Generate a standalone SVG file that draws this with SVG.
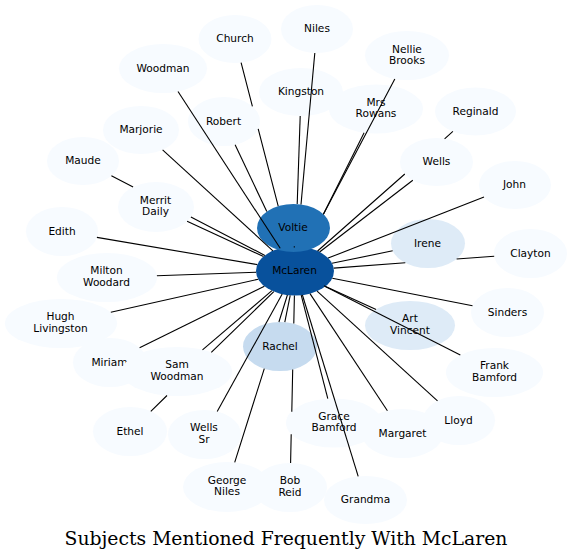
<svg xmlns="http://www.w3.org/2000/svg" width="572" height="560" viewBox="0 0 572 560">
<style>
.node ellipse{fill:#f7fbff;stroke:none}
.node text{font-family:"DejaVu Sans","Liberation Sans",sans-serif;font-size:10.6px;text-anchor:middle;fill:#000}
#connectors path{stroke:#000;stroke-width:1.1;fill:none}
.title{font-family:"DejaVu Serif","Liberation Serif",serif;font-size:18.8px;text-anchor:middle;fill:#000}
</style>
<rect width="572" height="560" fill="#fff"/>
<g id="nodes">
<g id="n-niles" class="node"><ellipse cx="317" cy="29" rx="36" ry="24"/><text x="317" y="32">Niles</text></g>
<g id="n-church" class="node"><ellipse cx="235" cy="39" rx="36.5" ry="24"/><text x="235" y="42">Church</text></g>
<g id="n-woodman" class="node"><ellipse cx="163" cy="68.5" rx="44" ry="24.5"/><text x="163" y="71.5">Woodman</text></g>
<g id="n-nellie-brooks" class="node"><ellipse cx="407" cy="55.5" rx="42" ry="24.5"/><text x="407" y="52.6">Nellie<tspan x="407" y="64">Brooks</tspan></text></g>
<g id="n-kingston" class="node"><ellipse cx="301" cy="92" rx="42" ry="24"/><text x="301" y="95">Kingston</text></g>
<g id="n-mrs-rowans" class="node"><ellipse cx="376" cy="109" rx="47" ry="24.5"/><text x="376" y="106">Mrs<tspan x="376" y="117.4">Rowans</tspan></text></g>
<g id="n-reginald" class="node"><ellipse cx="475.5" cy="111.5" rx="40.5" ry="24"/><text x="475.5" y="114.5">Reginald</text></g>
<g id="n-robert" class="node"><ellipse cx="224" cy="121.5" rx="36" ry="24.5"/><text x="223.5" y="124.5">Robert</text></g>
<g id="n-marjorie" class="node"><ellipse cx="141" cy="130" rx="38" ry="24"/><text x="141" y="133">Marjorie</text></g>
<g id="n-wells" class="node"><ellipse cx="436.5" cy="162" rx="36.5" ry="24"/><text x="436.5" y="165">Wells</text></g>
<g id="n-maude" class="node"><ellipse cx="83" cy="161" rx="36" ry="24"/><text x="83" y="164">Maude</text></g>
<g id="n-john" class="node"><ellipse cx="515" cy="185" rx="36" ry="24"/><text x="514.5" y="188">John</text></g>
<g id="n-merrit-daily" class="node"><ellipse cx="156" cy="207" rx="38" ry="25"/><text x="155.5" y="204">Merrit<tspan x="155.5" y="215.4">Daily</tspan></text></g>
<g id="n-edith" class="node"><ellipse cx="62" cy="231.5" rx="36" ry="24.5"/><text x="62" y="234.5">Edith</text></g>
<g id="n-irene" class="node"><ellipse cx="428" cy="243.5" rx="37" ry="24.5" style="fill:#deebf7"/><text x="427.5" y="246.5">Irene</text></g>
<g id="n-clayton" class="node"><ellipse cx="530.5" cy="253.5" rx="36.5" ry="24.5"/><text x="530.5" y="256.5">Clayton</text></g>
<g id="n-mclaren" class="node"><ellipse cx="295" cy="271" rx="39" ry="24.5" style="fill:#08519c"/><text x="294.5" y="274">McLaren</text></g>
<g id="n-voltie" class="node"><ellipse cx="293.5" cy="228" rx="36.5" ry="24" style="fill:#2171b5"/><text x="293" y="231">Voltie</text></g>
<g id="n-milton-woodard" class="node"><ellipse cx="107" cy="277.5" rx="50" ry="24.5"/><text x="106.5" y="274.4">Milton<tspan x="106.5" y="285.8">Woodard</tspan></text></g>
<g id="n-sinders" class="node"><ellipse cx="507.5" cy="312.5" rx="36.5" ry="24.5"/><text x="507.5" y="315.5">Sinders</text></g>
<g id="n-hugh-livingston" class="node"><ellipse cx="61" cy="323.5" rx="56" ry="24.5"/><text x="60.5" y="320.4">Hugh<tspan x="60.5" y="331.8">Livingston</tspan></text></g>
<g id="n-art-vincent" class="node"><ellipse cx="410" cy="325.5" rx="45" ry="24.5" style="fill:#deebf7"/><text x="410" y="322.4">Art<tspan x="410" y="333.8">Vincent</tspan></text></g>
<g id="n-rachel" class="node"><ellipse cx="280" cy="346.5" rx="37" ry="24.5" style="fill:#c6dbef"/><text x="280" y="349.5">Rachel</text></g>
<g id="n-miriam" class="node"><ellipse cx="110" cy="362.5" rx="37" ry="24.5"/><text x="109.5" y="365.5">Miriam</text></g>
<g id="n-sam-woodman" class="node"><ellipse cx="177" cy="371.5" rx="55" ry="24.5"/><text x="177" y="368.4">Sam<tspan x="177" y="379.8">Woodman</tspan></text></g>
<g id="n-frank-bamford" class="node"><ellipse cx="494.5" cy="372.5" rx="48.5" ry="24.5"/><text x="494.5" y="369.4">Frank<tspan x="494.5" y="380.8">Bamford</tspan></text></g>
<g id="n-grace-bamford" class="node"><ellipse cx="334" cy="423" rx="48" ry="24.5"/><text x="334" y="419.9">Grace<tspan x="334" y="431.3">Bamford</tspan></text></g>
<g id="n-margaret" class="node"><ellipse cx="402.5" cy="433.5" rx="40.5" ry="24.5"/><text x="402.5" y="436.5">Margaret</text></g>
<g id="n-lloyd" class="node"><ellipse cx="459" cy="420.5" rx="36" ry="24.5"/><text x="458.5" y="423.5">Lloyd</text></g>
<g id="n-ethel" class="node"><ellipse cx="130" cy="431.5" rx="37" ry="24.5"/><text x="130" y="434.5">Ethel</text></g>
<g id="n-wells-sr" class="node"><ellipse cx="204.5" cy="434.5" rx="36.5" ry="24.5"/><text x="204" y="431.4">Wells<tspan x="204" y="442.8">Sr</tspan></text></g>
<g id="n-george-niles" class="node"><ellipse cx="227" cy="487" rx="44" ry="25"/><text x="227" y="484">George<tspan x="227" y="495.4">Niles</tspan></text></g>
<g id="n-bob-reid" class="node"><ellipse cx="290" cy="487.5" rx="37" ry="24.5"/><text x="290" y="484.4">Bob<tspan x="290" y="495.8">Reid</tspan></text></g>
<g id="n-grandma" class="node"><ellipse cx="365.5" cy="500" rx="41.5" ry="24"/><text x="365.5" y="503">Grandma</text></g>
</g>
<g id="connectors">
<path d="M314.8,53.0 L301.0,204.5"/>
<path d="M241.1,62.7 L252.4,106.4 M258.2,128.9 L278.2,206.2"/>
<path d="M178.0,91.5 L280.2,248.3"/>
<path d="M394.8,78.9 L323.4,214.3"/>
<path d="M300.2,116.0 L297.2,204.1"/>
<path d="M364.1,132.7 L323.4,214.2"/>
<path d="M452.9,131.4 L444.6,138.8 M404.8,174.0 L317.6,251.0"/>
<path d="M235.1,144.8 L266.8,211.6"/>
<path d="M162.6,149.8 L272.9,250.8"/>
<path d="M412.8,180.3 L319.6,252.0"/>
<path d="M111.4,175.7 L133.1,186.9 M190.9,217.0 L264.9,255.4"/>
<path d="M484.0,197.1 L328.1,258.1"/>
<path d="M187.1,221.3 L263.5,256.5"/>
<path d="M96.9,237.4 L257.3,264.6"/>
<path d="M392.7,250.8 L332.0,263.3"/>
<path d="M494.2,256.2 L456.6,259.0 M405.3,262.8 L333.7,268.1"/>
<path d="M156.9,275.8 L256.1,272.3"/>
<path d="M472.5,305.7 L332.3,278.3"/>
<path d="M110.8,312.3 L258.3,279.2"/>
<path d="M376.1,309.4 L323.9,285.8"/>
<path d="M284.8,322.2 L290.2,295.3"/>
<path d="M139.6,347.8 L264.4,286.2"/>
<path d="M202.5,349.8 L271.9,290.7"/>
<path d="M460.3,355.1 L325.3,286.4"/>
<path d="M437.5,400.9 L317.1,291.2"/>
<path d="M327.8,398.7 L301.2,295.2"/>
<path d="M387.4,410.8 L310.0,293.6"/>
<path d="M150.8,411.3 L167.0,395.5 M211.3,352.4 L273.8,291.6"/>
<path d="M217.2,411.5 L282.2,294.1"/>
<path d="M234.7,462.4 L264.3,368.6 M278.9,322.0 L287.4,295.0"/>
<path d="M290.6,463.0 L291.2,434.2 M291.8,411.8 L292.7,369.5 M293.8,323.5 L294.4,295.5"/>
<path d="M358.2,476.4 L302.4,295.0"/>
<path d="M294.3,246.2 L294.3,247.4"/>
</g>
<text class="title" x="286" y="544.5">Subjects Mentioned Frequently With McLaren</text>
</svg>
